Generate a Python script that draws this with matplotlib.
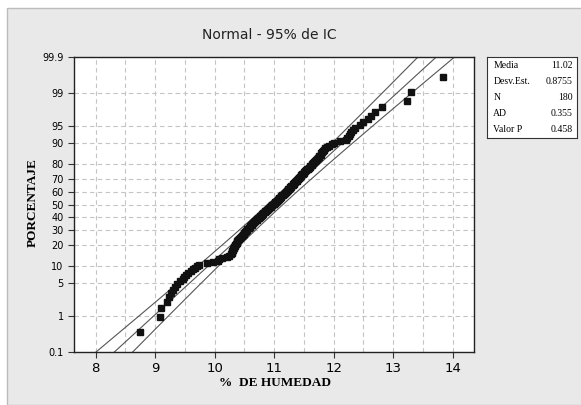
import numpy as np
import matplotlib
matplotlib.use("Agg")
import matplotlib.pyplot as plt
from matplotlib.patches import Rectangle
from statistics import NormalDist

# sorted humidity values (n = 180)
humedad = [
    8.75, 9.09, 9.10, 9.20, 9.23, 9.26, 9.30, 9.34, 9.37, 9.41,
    9.46, 9.49, 9.52, 9.55, 9.60, 9.64, 9.67, 9.71, 9.74, 9.88,
    9.97, 10.05, 10.08, 10.12, 10.20, 10.24, 10.27, 10.29, 10.30, 10.30,
    10.31, 10.31, 10.32, 10.33, 10.34, 10.35, 10.36, 10.37, 10.37, 10.38,
    10.39, 10.40, 10.41, 10.43, 10.44, 10.46, 10.47, 10.48, 10.49, 10.50,
    10.51, 10.52, 10.53, 10.54, 10.55, 10.57, 10.58, 10.59, 10.60, 10.61,
    10.62, 10.63, 10.65, 10.66, 10.67, 10.68, 10.70, 10.71, 10.72, 10.73,
    10.74, 10.76, 10.77, 10.78, 10.79, 10.80, 10.81, 10.82, 10.84, 10.85,
    10.86, 10.88, 10.89, 10.90, 10.91, 10.93, 10.94, 10.95, 10.96, 10.97,
    10.99, 11.00, 11.01, 11.02, 11.04, 11.05, 11.06, 11.07, 11.08, 11.09,
    11.10, 11.11, 11.12, 11.14, 11.15, 11.16, 11.18, 11.19, 11.20, 11.21,
    11.22, 11.23, 11.24, 11.25, 11.26, 11.27, 11.28, 11.29, 11.31, 11.32,
    11.33, 11.34, 11.35, 11.37, 11.38, 11.39, 11.40, 11.41, 11.42, 11.43,
    11.45, 11.46, 11.47, 11.48, 11.50, 11.51, 11.52, 11.54, 11.55, 11.57,
    11.58, 11.60, 11.61, 11.63, 11.64, 11.66, 11.67, 11.69, 11.70, 11.72,
    11.73, 11.75, 11.76, 11.78, 11.79, 11.80, 11.82, 11.84, 11.86, 11.89,
    11.93, 11.97, 12.00, 12.10, 12.20, 12.23, 12.26, 12.28, 12.30, 12.32,
    12.36, 12.45, 12.50, 12.58, 12.63, 12.70, 12.81, 13.24, 13.30, 13.84,
]

media = 11.02
desv = 0.8755
n = 180
ad = 0.355
valor_p = 0.458

pct_ticks = [0.1, 1, 5, 10, 20, 30, 40, 50, 60, 70, 80, 90, 95, 99, 99.9]
pct_labels = ["0.1", "1", "5", "10", "20", "30", "40", "50", "60", "70",
              "80", "90", "95", "99", "99.9"]
x_ticks = [8, 9, 10, 11, 12, 13, 14]

nd = NormalDist()
def z(p):
    return nd.inv_cdf(p / 100.0)

# median ranks plotting positions
ranks = np.arange(1, n + 1)
zpts = [z(100 * (i - 0.3) / (n + 0.4)) for i in ranks]

fig = plt.figure(figsize=(5.81, 4.05), dpi=100)
fig.patch.set_facecolor("white")
fig.add_artist(Rectangle((7 / 581, 0), 1, 1 - 8 / 405, transform=fig.transFigure,
                         facecolor="#e9e9e9", edgecolor="#bcbcbc", lw=1.0, zorder=0))

ax = fig.add_axes([74 / 581, 53 / 405, 400 / 581, 295 / 405])
ax.set_facecolor("white")

# fitted line and 95% CI
zz = np.linspace(z(0.1) - 0.3, z(99.9) + 0.3, 200)
fit = media + desv * zz
half = 1.96 * desv / np.sqrt(n) * np.sqrt(1 + zz ** 2 / 2)
for xs in (fit, fit - half, fit + half):
    ax.plot(xs, zz, color="#555555", lw=0.8, zorder=2)

ax.plot(humedad, zpts, "s", color="#111111", ms=5, zorder=3)

ax.set_xlim(7.636, 14.36)
ax.set_ylim(z(0.1), z(99.9))
ax.set_yticks([z(p) for p in pct_ticks])
ax.set_yticklabels(pct_labels, fontsize=7, family="DejaVu Sans")
ax.set_xticks(x_ticks)
ax.set_xticklabels([str(t) for t in x_ticks], fontsize=9.5, family="DejaVu Sans")
ax.set_xticks(np.arange(8.5, 14.5, 1.0), minor=True)
ax.tick_params(which="major", direction="out", length=4, width=0.8, color="#333333")
ax.tick_params(which="minor", length=0)
ax.grid(True, which="both", ls=(0, (4, 3)), color="#c4c4c4", lw=0.8)
for s in ax.spines.values():
    s.set_color("#222222")
    s.set_linewidth(1.0)

fig.text(269 / 581, 1 - 35 / 405, "Normal - 95% de IC", ha="center", va="center",
         fontsize=10, family="DejaVu Sans", color="#222222")
fig.text(33 / 581, 1 - 203 / 405, "PORCENTAJE", rotation=90, ha="center", va="center",
         fontsize=9.5, family="Liberation Serif", weight="bold")
fig.text(275 / 581, 1 - 383 / 405, "%  DE HUMEDAD", ha="center", va="center",
         fontsize=9.5, family="Liberation Serif", weight="bold")

# stats box
box = fig.add_axes([487 / 581, 1 - 138 / 405, 90 / 581, 81 / 405])
box.set_xlim(0, 1)
box.set_ylim(0, 1)
box.set_xticks([])
box.set_yticks([])
for s in box.spines.values():
    s.set_color("#333333")
    s.set_linewidth(0.8)
stats_labels = ["Media", "Desv.Est.", "N", "AD", "Valor P"]
stats_values = [f"{media:.2f}", f"{desv:.4f}", str(n), f"{ad:.3f}", f"{valor_p:.3f}"]
for k, (lab, val) in enumerate(zip(stats_labels, stats_values)):
    yy = 1 - (8 + 16 * k) / 81
    box.text(0.07, yy, lab, ha="left", va="center", fontsize=7, family="Liberation Serif")
    box.text(0.95, yy, val, ha="right", va="center", fontsize=7, family="Liberation Serif")

fig.savefig("out.png", dpi=100, facecolor=fig.get_facecolor())
